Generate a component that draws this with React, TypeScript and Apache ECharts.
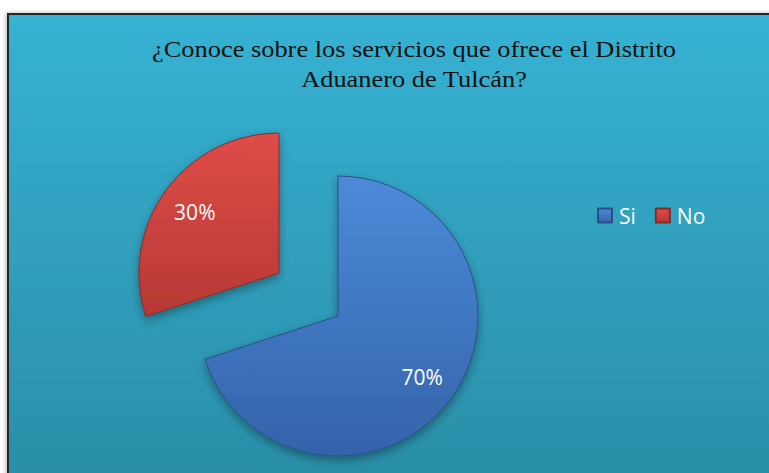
import React, { useEffect, useRef } from 'react';
import * as echarts from 'echarts';

const categories = ['Si', 'No'];
const values = [70, 30];
const titleLines = ['¿Conoce sobre los servicios que ofrece el Distrito', 'Aduanero de Tulcán?'];

export default function App() {
  const ref = useRef<HTMLDivElement>(null);
  useEffect(() => {
    const chart = echarts.init(ref.current!, null, { renderer: 'svg' });
    const fills = [
      new echarts.graphic.LinearGradient(0, 0, 0, 1, [
        { offset: 0, color: '#4c8ad8' },
        { offset: 1, color: '#3463aa' },
      ]),
      new echarts.graphic.LinearGradient(0, 0, 0, 1, [
        { offset: 0, color: '#de4d48' },
        { offset: 1, color: '#b73834' },
      ]),
    ];
    const borders = ['#2c4f85', '#8a2a27'];
    const center = [338, 316];
    const radius = 140;
    const offset = 73;
    const mainData = categories.map((c, i) => ({
      name: c,
      value: values[i],
      selected: c === 'No',
      itemStyle: {
        color: fills[i],
        borderColor: borders[i],
        borderWidth: 1,
        shadowBlur: 10,
        shadowColor: 'rgba(0,0,0,0.35)',
        shadowOffsetY: 4,
      },
    }));
    const labelData = categories.map((c, i) => ({
      name: c,
      value: values[i],
      selected: c === 'No',
    }));
    chart.setOption({
      animation: false,
      backgroundColor: '#ffffff',
      legend: {
        data: categories,
        left: 592,
        top: 200,
        itemWidth: 14,
        itemHeight: 14,
        itemGap: 19,
        icon: 'rect',
        selectedMode: false,
        textStyle: { color: '#ffffff', fontSize: 21, fontFamily: 'Open Sans', padding: [0, 0, 0, 2] },
      },
      graphic: [
        {
          type: 'rect',
          z: -1,
          shape: { x: 8, y: 14, width: 800, height: 500 },
          style: {
            fill: new echarts.graphic.LinearGradient(0, 0, 0, 1, [
              { offset: 0, color: '#36b2d4' },
              { offset: 1, color: '#2a8ba4' },
            ]),
            stroke: '#262626',
            lineWidth: 2,
            shadowBlur: 4,
            shadowColor: 'rgba(0,0,0,0.3)',
            shadowOffsetX: -1,
          },
        },
        {
          type: 'text',
          z: 100,
          x: 414,
          y: 34,
          scaleX: 1.1,
          style: {
            text: titleLines.join('\n'),
            align: 'center',
            verticalAlign: 'top',
            fontFamily: 'Liberation Serif',
            fontSize: 24,
            lineHeight: 30,
            fill: '#111111',
          },
        },
      ],
      series: [
        {
          type: 'pie',
          center,
          radius,
          startAngle: 90,
          clockwise: true,
          selectedMode: 'multiple',
          selectedOffset: offset,
          label: { show: false },
          labelLine: { show: false },
          emphasis: { disabled: true },
          data: mainData,
        },
        {
          type: 'pie',
          center,
          radius: [62, radius],
          startAngle: 90,
          clockwise: true,
          silent: true,
          selectedMode: 'multiple',
          selectedOffset: offset,
          itemStyle: { color: 'rgba(0,0,0,0)' },
          label: {
            show: true,
            position: 'inside',
            formatter: '{d}%',
            color: '#ffffff',
            fontSize: 21,
            fontFamily: 'Open Sans',
          },
          labelLine: { show: false },
          emphasis: { disabled: true },
          data: labelData,
        },
      ],
    });
    return () => chart.dispose();
  }, []);
  return <div ref={ref} style={{ position: 'absolute', left: 0, top: 0, width: 769, height: 473 }} />;
}
